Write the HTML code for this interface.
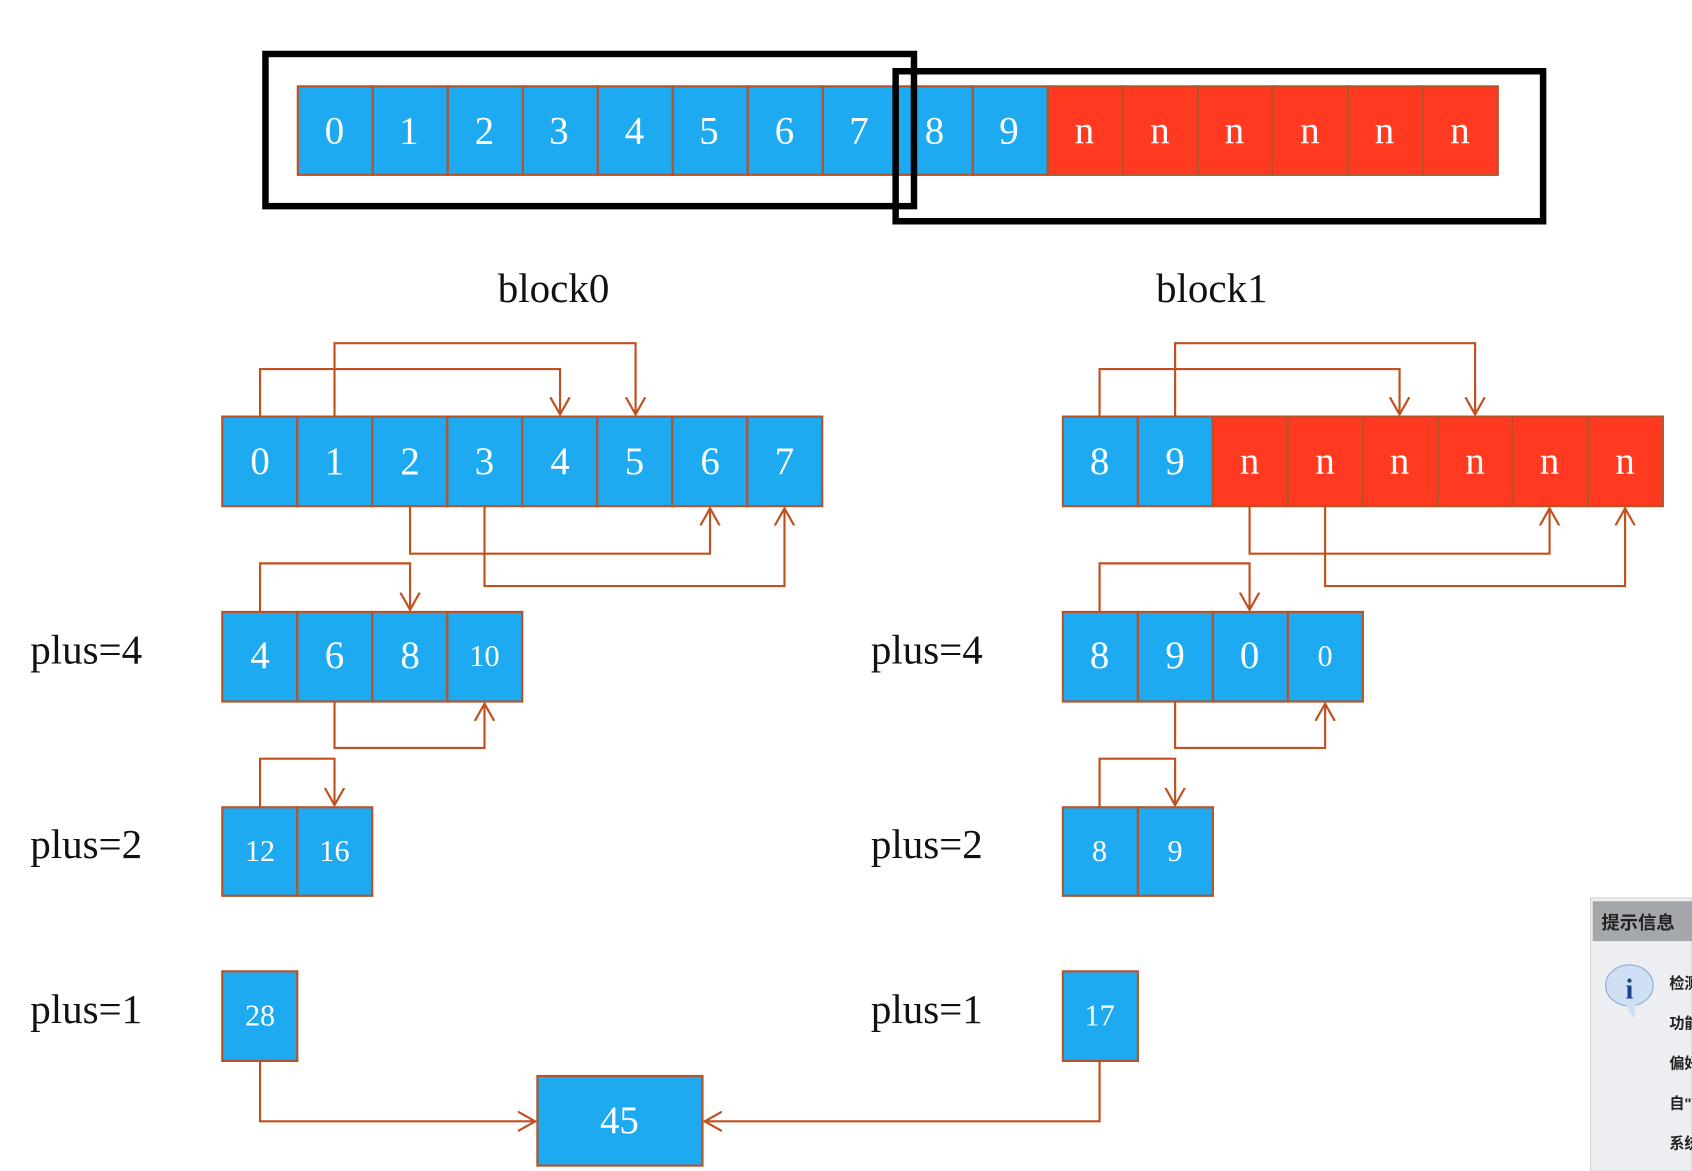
<!DOCTYPE html>
<html><head><meta charset="utf-8"><style>
html,body{margin:0;padding:0;background:#fff;}
svg{display:block}
</style></head><body>
<svg width="1692" height="1171" viewBox="0 0 1568 1085" preserveAspectRatio="none" xmlns="http://www.w3.org/2000/svg" font-family="Liberation Serif, serif">
<defs>
<marker id="a" markerWidth="24" markerHeight="24" refX="16" refY="12" orient="auto" markerUnits="userSpaceOnUse">
<path d="M0,3 L16,12 L0,21" fill="none" stroke="#c0501f" stroke-width="2"/>
</marker>
</defs>
<rect width="1568" height="1085" fill="#fff"/>
<g stroke="#b5532a" stroke-width="2">
<g fill="#1eaaf0">
<rect x="276" y="80" width="69.5" height="82"/><rect x="345.5" y="80" width="69.5" height="82"/><rect x="415" y="80" width="69.5" height="82"/><rect x="484.5" y="80" width="69.5" height="82"/><rect x="554" y="80" width="69.5" height="82"/><rect x="623.5" y="80" width="69.5" height="82"/><rect x="693" y="80" width="69.5" height="82"/><rect x="762.5" y="80" width="69.5" height="82"/><rect x="832" y="80" width="69.5" height="82"/><rect x="901.5" y="80" width="69.5" height="82"/>
</g>
<g fill="#ff3a20">
<rect x="971" y="80" width="69.5" height="82"/><rect x="1040.5" y="80" width="69.5" height="82"/><rect x="1110" y="80" width="69.5" height="82"/><rect x="1179.5" y="80" width="69.5" height="82"/><rect x="1249" y="80" width="69.5" height="82"/><rect x="1318.5" y="80" width="69.5" height="82"/>
</g>
<g fill="#1eaaf0">
<rect x="206" y="386" width="69.5" height="83"/><rect x="275.5" y="386" width="69.5" height="83"/><rect x="345" y="386" width="69.5" height="83"/><rect x="414.5" y="386" width="69.5" height="83"/><rect x="484" y="386" width="69.5" height="83"/><rect x="553.5" y="386" width="69.5" height="83"/><rect x="623" y="386" width="69.5" height="83"/><rect x="692.5" y="386" width="69.5" height="83"/>
<rect x="985" y="386" width="69.5" height="83"/><rect x="1054.5" y="386" width="69.5" height="83"/>
<rect x="206" y="567" width="69.5" height="83"/><rect x="275.5" y="567" width="69.5" height="83"/><rect x="345" y="567" width="69.5" height="83"/><rect x="414.5" y="567" width="69.5" height="83"/>
<rect x="985" y="567" width="69.5" height="83"/><rect x="1054.5" y="567" width="69.5" height="83"/><rect x="1124" y="567" width="69.5" height="83"/><rect x="1193.5" y="567" width="69.5" height="83"/>
<rect x="206" y="748" width="69.5" height="82"/><rect x="275.5" y="748" width="69.5" height="82"/>
<rect x="985" y="748" width="69.5" height="82"/><rect x="1054.5" y="748" width="69.5" height="82"/>
<rect x="206" y="900" width="69.5" height="83"/><rect x="985" y="900" width="69.5" height="83"/>
<rect x="498" y="997" width="153" height="83"/>
</g>
<g fill="#ff3a20">
<rect x="1124" y="386" width="69.5" height="83"/><rect x="1193.5" y="386" width="69.5" height="83"/><rect x="1263" y="386" width="69.5" height="83"/><rect x="1332.5" y="386" width="69.5" height="83"/><rect x="1402" y="386" width="69.5" height="83"/><rect x="1471.5" y="386" width="69.5" height="83"/>
</g>
</g>
<g fill="none" stroke="#000" stroke-width="6">
<rect x="246" y="50" width="601" height="141"/>
<rect x="830" y="66" width="600" height="139"/>
</g>
<g fill="none" stroke="#c0501f" stroke-width="2" marker-end="url(#a)">
<polyline points="241,386 241,342 519,342 519,384"/>
<polyline points="310,386 310,318 589,318 589,384"/>
<polyline points="380,469 380,513 658,513 658,471"/>
<polyline points="449,469 449,543 727,543 727,471"/>
<polyline points="1019,386 1019,342 1297,342 1297,384"/>
<polyline points="1089,386 1089,318 1367,318 1367,384"/>
<polyline points="1158,469 1158,513 1436,513 1436,471"/>
<polyline points="1228,469 1228,543 1506,543 1506,471"/>
<polyline points="241,567 241,522 380,522 380,565"/>
<polyline points="310,650 310,693 449,693 449,652"/>
<polyline points="1019,567 1019,522 1158,522 1158,565"/>
<polyline points="1089,650 1089,693 1228,693 1228,652"/>
<polyline points="241,748 241,703 310,703 310,746"/>
<polyline points="1019,748 1019,703 1089,703 1089,746"/>
<polyline points="241,983 241,1039 496,1039"/>
<polyline points="1019,983 1019,1039 653,1039"/>
</g>
<g fill="#fff" font-size="36" text-anchor="middle">
<text x="310" y="133">0</text><text x="379" y="133">1</text><text x="449" y="133">2</text><text x="518" y="133">3</text><text x="588" y="133">4</text><text x="657" y="133">5</text><text x="727" y="133">6</text><text x="796" y="133">7</text><text x="866" y="133">8</text><text x="935" y="133">9</text>
<text x="1005" y="133">n</text><text x="1075" y="133">n</text><text x="1144" y="133">n</text><text x="1214" y="133">n</text><text x="1283" y="133">n</text><text x="1353" y="133">n</text>
<text x="241" y="439">0</text><text x="310" y="439">1</text><text x="380" y="439">2</text><text x="449" y="439">3</text><text x="519" y="439">4</text><text x="588" y="439">5</text><text x="658" y="439">6</text><text x="727" y="439">7</text>
<text x="1019" y="439">8</text><text x="1089" y="439">9</text><text x="1158" y="439">n</text><text x="1228" y="439">n</text><text x="1297" y="439">n</text><text x="1367" y="439">n</text><text x="1436" y="439">n</text><text x="1506" y="439">n</text>
<text x="241" y="619">4</text><text x="310" y="619">6</text><text x="380" y="619">8</text><text x="449" y="617" font-size="28">10</text>
<text x="1019" y="619">8</text><text x="1089" y="619">9</text><text x="1158" y="619">0</text><text x="1228" y="617" font-size="28">0</text>
<text x="241" y="798" font-size="28">12</text><text x="310" y="798" font-size="28">16</text>
<text x="1019" y="798" font-size="28">8</text><text x="1089" y="798" font-size="28">9</text>
<text x="241" y="950" font-size="28">28</text><text x="1019" y="950" font-size="28">17</text>
<text x="574" y="1050">45</text>
</g>
<g fill="#111" font-size="38">
<text x="513" y="280" text-anchor="middle">block0</text>
<text x="1123" y="280" text-anchor="middle">block1</text>
<text x="28" y="615">plus=4</text><text x="807" y="615">plus=4</text>
<text x="28" y="795">plus=2</text><text x="807" y="795">plus=2</text>
<text x="28" y="948">plus=1</text><text x="807" y="948">plus=1</text>
</g>
<g font-family="Liberation Sans, Noto Sans CJK SC, sans-serif">
<rect x="1474" y="832" width="94" height="253" fill="#eceef1" stroke="#cfd2d6"/>
<rect x="1476" y="835" width="92" height="37" fill="#a4a8ac"/>
<text x="1484" y="861" font-size="17" font-weight="bold" fill="#222">提示信息</text>
<ellipse cx="1510" cy="913" rx="22" ry="19" fill="#cfe0f5" stroke="#8aa6cc"/>
<path d="M1506,930 L1514,944 L1516,930Z" fill="#cfe0f5"/>
<text x="1510" y="925" font-size="26" font-weight="bold" font-family="Liberation Serif, serif" fill="#1b3f8f" text-anchor="middle">i</text>
<g font-size="14" font-weight="bold" fill="#222">
<text x="1547" y="916">检测</text><text x="1547" y="953">功能</text><text x="1547" y="990">偏好</text><text x="1547" y="1027">自"</text><text x="1547" y="1064">系统</text>
</g>
</g>
</svg>
</body></html>
